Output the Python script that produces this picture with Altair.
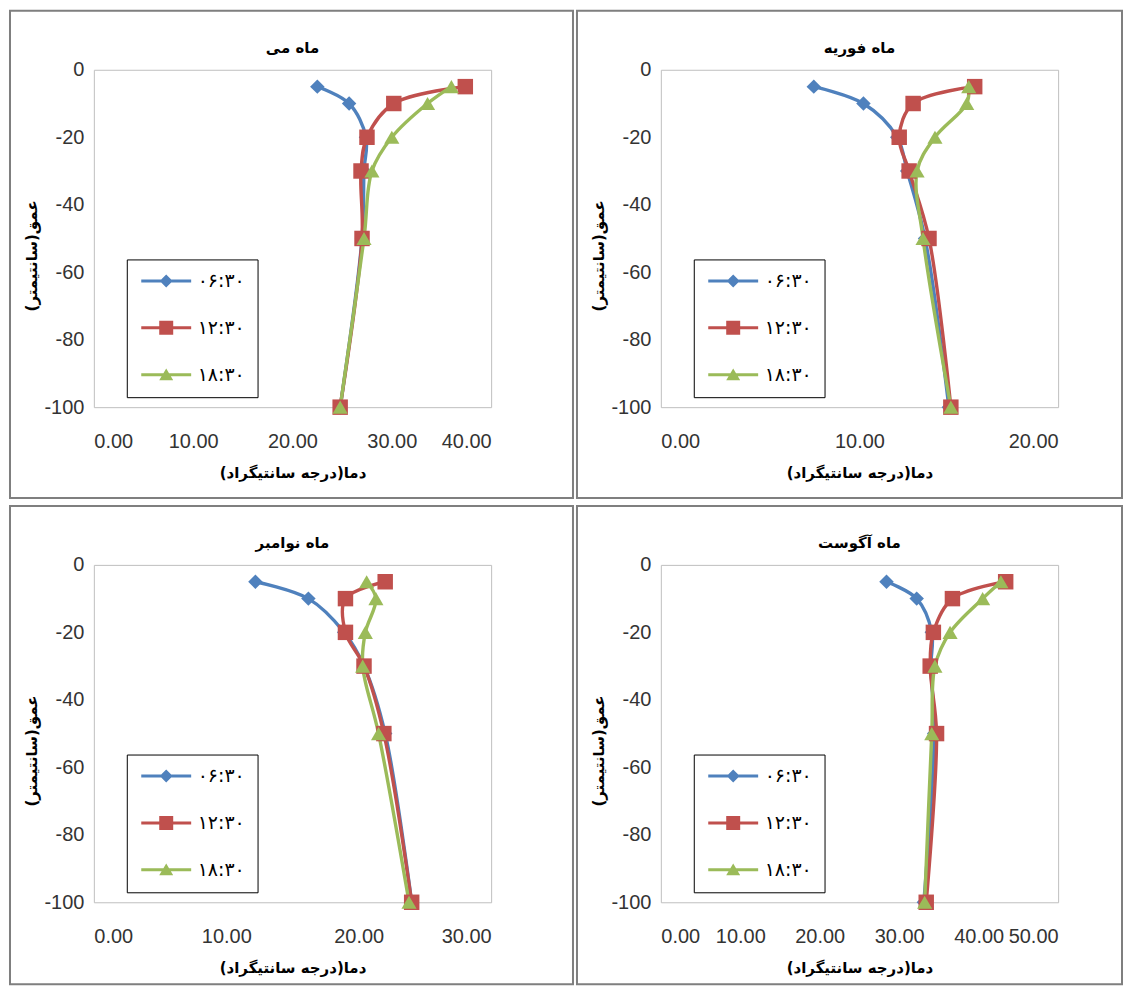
import altair as alt
import pandas as pd

# ---------------- data ----------------
depths = [-5, -10, -20, -30, -50, -100]
series_names = ["۰۶:۳۰", "۱۲:۳۰", "۱۸:۳۰"]
colors = ["#4F81BD", "#C0504D", "#9BBB59"]

# May (ماه می)
may_0630 = [22.5, 25.7, 27.4, 27.2, 27.0, 24.8]
may_1230 = [37.4, 30.2, 27.5, 26.9, 27.0, 24.8]
may_1830 = [36.0, 33.6, 30.0, 28.0, 27.2, 24.8]

# February (ماه فوریه)
feb_0630 = [7.7, 10.2, 11.9, 12.4, 13.3, 14.5]
feb_1230 = [15.8, 12.7, 12.0, 12.5, 13.5, 14.6]
feb_1830 = [15.5, 15.4, 13.8, 12.9, 13.2, 14.6]

# November (ماه نوامبر)
nov_0630 = [12.2, 16.2, 18.9, 20.4, 22.0, 24.0]
nov_1230 = [22.0, 19.0, 19.0, 20.4, 21.9, 24.0]
nov_1830 = [20.6, 21.3, 20.5, 20.3, 21.5, 23.8]

# August (ماه آگوست)
aug_0630 = [28.4, 32.2, 34.1, 34.0, 34.4, 33.1]
aug_1230 = [43.4, 36.7, 34.3, 33.9, 34.7, 33.4]
aug_1830 = [42.8, 40.5, 36.4, 34.5, 34.1, 33.2]

panel_titles = ["ماه می", "ماه فوریه", "ماه نوامبر", "ماه آگوست"]
panel_xmax = [40, 20, 30, 50]
panel_values = [
    [may_0630, may_1230, may_1830],
    [feb_0630, feb_1230, feb_1830],
    [nov_0630, nov_1230, nov_1830],
    [aug_0630, aug_1230, aug_1830],
]

x_title = "دما(درجه سانتیگراد)"
y_title = "عمق(سانتیمتر)"

# ---------------- styling ----------------
W, H = 398, 338
marker_shapes = ["diamond", "square", "triangle-up"]
marker_sizes = [210, 240, 230]
legend_paths = [
    "M-5,-0.3H5V0.3H-5Z M0,-1.3L1.3,0L0,1.3L-1.3,0Z",
    "M-5,-0.3H5V0.3H-5Z M-1.4,-1.4H1.4V1.4H-1.4Z",
    "M-5,-0.3H5V0.3H-5Z M0,-1.25L1.4,1.1H-1.4Z",
]
PERSIAN_FONT = "DejaVu Sans"
NUM_FONT = "Liberation Sans"


def make_panel(idx):
    title = panel_titles[idx]
    xmax = panel_xmax[idx]
    vals = panel_values[idx]
    rows = []
    for name, v in zip(series_names, vals):
        for d, t in zip(depths, v):
            rows.append({"series": name, "depth": d, "temp": t})
    df = pd.DataFrame(rows)
    base = alt.Chart(df)

    x = alt.X(
        "temp:Q",
        scale=alt.Scale(domain=[0, xmax], nice=False, zero=False),
        axis=alt.Axis(
            values=list(range(0, xmax + 1, 10)),
            format=".2f",
            title=x_title,
            labelPadding=24,
            titlePadding=14,
            zindex=2,
        ),
    )
    y = alt.Y(
        "depth:Q",
        scale=alt.Scale(domain=[-100, 0], nice=False),
        axis=alt.Axis(
            values=[0, -20, -40, -60, -80, -100],
            labelExpr="'' + datum.value",
            title=y_title,
            labelPadding=10,
            titleX=-54,
            titleY=H / 2 + 17,
            zindex=2,
        ),
    )

    col = idx % 2
    row = idx // 2
    frame_x2 = W + 82 if col == 0 else W + 64
    frame_y2 = H + 91 if row == 0 else H + 82
    frame = (
        alt.Chart(pd.DataFrame({"f": [0]}))
        .mark_rect(fill="white", fillOpacity=0, stroke="#7f7f7f", strokeWidth=2)
        .encode(
            x=alt.value(-84),
            x2=alt.value(frame_x2),
            y=alt.value(-59),
            y2=alt.value(frame_y2),
        )
    )

    layers = [frame]
    # lines (one layer per series, drawn blue -> red -> green)
    for name, c in zip(series_names, colors):
        layers.append(
            base.transform_filter(alt.datum.series == name)
            .mark_line(strokeWidth=3.4, interpolate="catmull-rom", color=c)
            .encode(x=x, y=y, order=alt.Order("depth:Q", sort="descending"))
        )
    # markers
    for name, c, shp, sz in zip(series_names, colors, marker_shapes, marker_sizes):
        layers.append(
            base.transform_filter(alt.datum.series == name)
            .mark_point(shape=shp, filled=True, size=sz, opacity=1, color=c)
            .encode(x=x, y=y)
        )

    leg = alt.Legend(
        title=None,
        orient="none",
        legendX=33,
        legendY=190,
        direction="vertical",
        strokeColor="#000000",
        fillColor="white",
        padding=12,
        rowPadding=27,
        labelFont=PERSIAN_FONT,
        labelFontSize=19,
        labelColor="#000000",
        symbolSize=100,
        symbolOffset=18,
        labelOffset=22,
        symbolOpacity=1,
        symbolStrokeWidth=0,
        zindex=3,
    )
    legend_layer = base.mark_point(opacity=0, filled=True, size=100).encode(
        x=x,
        y=y,
        color=alt.Color(
            "series:N", scale=alt.Scale(domain=series_names, range=colors), legend=leg
        ),
        shape=alt.Shape(
            "series:N",
            scale=alt.Scale(domain=series_names, range=legend_paths),
            legend=leg,
        ),
    )
    layers.append(legend_layer)

    return alt.layer(*layers).properties(
        width=W,
        height=H,
        title=alt.Title(
            title,
            font=PERSIAN_FONT,
            fontSize=15,
            fontWeight="bold",
            color="#000000",
            offset=-46,
            anchor="middle",
        ),
    )


panels = [make_panel(i) for i in range(4)]

chart = (
    alt.concat(*panels, columns=2, spacing={"row": 158, "column": 170}, bounds="flush")
    .resolve_scale(color="independent", shape="independent")
    .resolve_legend(color="independent", shape="independent")
    .properties(padding=0)
    .configure_view(stroke="#bfbfbf", strokeWidth=1)
    .configure_axis(
        grid=False,
        domain=False,
        ticks=False,
        tickSize=0,
        labelFont=NUM_FONT,
        labelFontSize=20,
        labelColor="#333333",
        titleFont=PERSIAN_FONT,
        titleFontSize=15,
        titleFontWeight="bold",
        titleColor="#000000",
    )
)

chart.save("out.html", embed_options={"renderer": "svg", "actions": False})
